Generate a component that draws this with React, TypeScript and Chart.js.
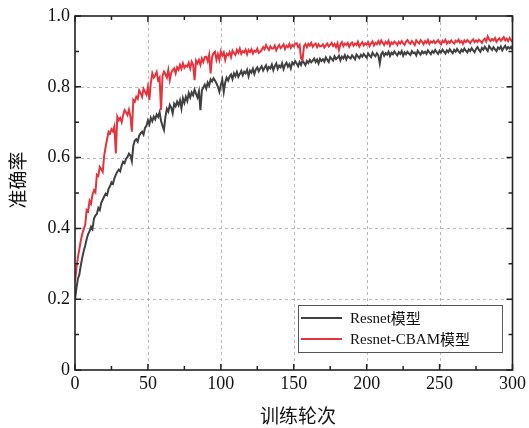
import React, { useEffect, useRef } from "react";
import { Chart, registerables } from "chart.js";

Chart.register(...registerables);

const epochs: number[] = Array.from({ length: 301 }, (_, i) => i);

const resnet: number[] = [
  0.198, 0.232, 0.258, 0.270, 0.296, 0.318, 0.336, 0.352, 0.370, 0.384,
  0.392, 0.405, 0.398, 0.428, 0.436, 0.441, 0.458, 0.452, 0.472, 0.481,
  0.490, 0.498, 0.494, 0.512, 0.519, 0.530, 0.526, 0.541, 0.552, 0.560,
  0.566, 0.561, 0.578, 0.588, 0.584, 0.596, 0.602, 0.611, 0.606, 0.590,
  0.634, 0.648, 0.652, 0.645, 0.662, 0.669, 0.673, 0.665, 0.684, 0.690,
  0.705, 0.694, 0.712, 0.703, 0.716, 0.708, 0.722, 0.715, 0.728, 0.704,
  0.690, 0.678, 0.715, 0.738, 0.730, 0.749, 0.741, 0.725, 0.752, 0.745,
  0.758, 0.748, 0.762, 0.739, 0.768, 0.755, 0.772, 0.760, 0.782, 0.770,
  0.784, 0.776, 0.792, 0.780, 0.770, 0.787, 0.734, 0.790, 0.798, 0.806,
  0.795, 0.812, 0.803, 0.821, 0.815, 0.824, 0.818, 0.810, 0.800, 0.786,
  0.805, 0.820, 0.786, 0.812, 0.826, 0.818, 0.829, 0.835, 0.822, 0.838,
  0.830, 0.842, 0.828, 0.836, 0.845, 0.833, 0.843, 0.838, 0.848, 0.830,
  0.846, 0.840, 0.851, 0.836, 0.849, 0.855, 0.844, 0.852, 0.858, 0.846,
  0.854, 0.861, 0.847, 0.856, 0.852, 0.863, 0.847, 0.858, 0.866, 0.851,
  0.860, 0.855, 0.866, 0.850, 0.862, 0.868, 0.857, 0.864, 0.852, 0.869,
  0.864, 0.872, 0.866, 0.858, 0.870, 0.862, 0.874, 0.868, 0.861, 0.873,
  0.867, 0.876, 0.869, 0.874, 0.880, 0.870, 0.877, 0.866, 0.879, 0.873,
  0.878, 0.871, 0.883, 0.876, 0.870, 0.884, 0.879, 0.874, 0.886, 0.878,
  0.882, 0.888, 0.875, 0.885, 0.880, 0.889, 0.877, 0.887, 0.883, 0.880,
  0.889, 0.884, 0.878, 0.891, 0.886, 0.881, 0.890, 0.885, 0.893, 0.887,
  0.882, 0.894, 0.888, 0.884, 0.896, 0.890, 0.886, 0.895, 0.889, 0.866,
  0.892, 0.898, 0.888, 0.895, 0.891, 0.899, 0.887, 0.896, 0.892, 0.900,
  0.894, 0.889, 0.898, 0.893, 0.901, 0.888, 0.897, 0.892, 0.899, 0.894,
  0.890, 0.901, 0.895, 0.897, 0.889, 0.902, 0.896, 0.891, 0.900, 0.895,
  0.899, 0.893, 0.903, 0.897, 0.892, 0.901, 0.896, 0.904, 0.898, 0.893,
  0.902, 0.897, 0.905, 0.899, 0.894, 0.903, 0.898, 0.906, 0.900, 0.895,
  0.904, 0.899, 0.907, 0.901, 0.896, 0.905, 0.900, 0.908, 0.902, 0.897,
  0.906, 0.901, 0.909, 0.903, 0.898, 0.907, 0.912, 0.904, 0.899, 0.910,
  0.905, 0.913, 0.907, 0.901, 0.915, 0.909, 0.904, 0.912, 0.906, 0.901,
  0.911, 0.907, 0.914, 0.903, 0.910, 0.916, 0.906, 0.912, 0.908, 0.913,
  0.905,
];

const resnetCbam: number[] = [
  0.250, 0.288, 0.318, 0.342, 0.366, 0.385, 0.398, 0.410, 0.452, 0.448,
  0.478, 0.470, 0.496, 0.508, 0.502, 0.552, 0.548, 0.574, 0.568, 0.560,
  0.605, 0.630, 0.652, 0.673, 0.668, 0.680, 0.674, 0.688, 0.612, 0.716,
  0.706, 0.712, 0.700, 0.720, 0.734, 0.728, 0.720, 0.735, 0.716, 0.673,
  0.763, 0.758, 0.772, 0.766, 0.790, 0.782, 0.772, 0.794, 0.786, 0.778,
  0.800, 0.763, 0.812, 0.838, 0.826, 0.832, 0.842, 0.819, 0.826, 0.734,
  0.830, 0.843, 0.836, 0.826, 0.848, 0.819, 0.840, 0.847, 0.852, 0.838,
  0.855, 0.848, 0.862, 0.851, 0.866, 0.854, 0.860, 0.857, 0.868, 0.852,
  0.871, 0.862, 0.819, 0.874, 0.866, 0.876, 0.862, 0.880, 0.870, 0.884,
  0.885, 0.872, 0.890, 0.838, 0.884, 0.895, 0.899, 0.876, 0.892, 0.876,
  0.900, 0.888, 0.897, 0.876, 0.893, 0.889, 0.898, 0.884, 0.902, 0.895,
  0.890, 0.904, 0.896, 0.908, 0.893, 0.901, 0.897, 0.905, 0.892, 0.904,
  0.898, 0.906, 0.894, 0.902, 0.899, 0.908, 0.896, 0.899, 0.904, 0.912,
  0.906, 0.918, 0.910, 0.904, 0.914, 0.908, 0.908, 0.916, 0.903, 0.912,
  0.918, 0.909, 0.914, 0.920, 0.907, 0.916, 0.912, 0.921, 0.910, 0.918,
  0.914, 0.922, 0.923, 0.912, 0.918, 0.880, 0.876, 0.915, 0.921, 0.912,
  0.921, 0.916, 0.924, 0.913, 0.919, 0.922, 0.912, 0.920, 0.914, 0.915,
  0.920, 0.911, 0.917, 0.922, 0.914, 0.919, 0.924, 0.915, 0.921, 0.912,
  0.923, 0.904, 0.920, 0.926, 0.915, 0.922, 0.918, 0.924, 0.913, 0.921,
  0.925, 0.916, 0.922, 0.918, 0.927, 0.914, 0.921, 0.926, 0.917, 0.923,
  0.919, 0.926, 0.915, 0.922, 0.928, 0.917, 0.924, 0.920, 0.929, 0.921,
  0.931, 0.924, 0.918, 0.927, 0.922, 0.930, 0.916, 0.925, 0.921, 0.928,
  0.924, 0.918, 0.927, 0.922, 0.929, 0.923, 0.919, 0.928, 0.932, 0.925,
  0.921, 0.929, 0.924, 0.918, 0.931, 0.926, 0.922, 0.932, 0.927, 0.920,
  0.929, 0.924, 0.932, 0.921, 0.928, 0.925, 0.930, 0.923, 0.927, 0.932,
  0.925, 0.920, 0.930, 0.926, 0.933, 0.922, 0.928, 0.924, 0.931, 0.926,
  0.922, 0.930, 0.927, 0.933, 0.925, 0.929, 0.921, 0.931, 0.926, 0.932,
  0.928, 0.923, 0.930, 0.934, 0.926, 0.931, 0.927, 0.933, 0.929, 0.924,
  0.932, 0.936, 0.928, 0.942, 0.934, 0.929, 0.935, 0.931, 0.938, 0.927,
  0.933, 0.937, 0.930, 0.935, 0.940, 0.931, 0.936, 0.929, 0.938, 0.932,
  0.926,
];

const seriesNames: string[] = ["Resnet模型", "Resnet-CBAM模型"];
const xTitle = "训练轮次";
const yTitle = "准确率";
const xMajor: number[] = [0, 50, 100, 150, 200, 250, 300];
const yMajor: number[] = [0, 0.2, 0.4, 0.6, 0.8, 1.0];

const COLORS = ["#404040", "#e5343d"];
const SERIF = "'Liberation Serif', 'DejaVu Serif', serif";
const CJK = "'Noto Sans CJK SC', sans-serif";

const decorPlugin = {
  id: "decor",
  beforeDatasetsDraw(chart: any) {
    const { ctx, chartArea: a, scales } = chart;
    const xs = scales.x, ys = scales.y;
    ctx.save();
    ctx.strokeStyle = "#b8b8b8";
    ctx.lineWidth = 1;
    ctx.setLineDash([3, 3]);
    for (const v of xMajor) {
      if (v === 0 || v === 300) continue;
      const px = Math.round(xs.getPixelForValue(v)) + 0.5;
      ctx.beginPath(); ctx.moveTo(px, a.top); ctx.lineTo(px, a.bottom); ctx.stroke();
    }
    for (const v of yMajor) {
      if (v === 0 || v === 1) continue;
      const py = Math.round(ys.getPixelForValue(v)) + 0.5;
      ctx.beginPath(); ctx.moveTo(a.left, py); ctx.lineTo(a.right, py); ctx.stroke();
    }
    ctx.restore();
  },
  afterDatasetsDraw(chart: any) {
    const { ctx, chartArea: a, scales } = chart;
    const xs = scales.x, ys = scales.y;
    ctx.save();
    ctx.setLineDash([]);
    ctx.strokeStyle = "#222";
    ctx.lineWidth = 1.5;
    for (let v = 0; v <= 300; v += 25) {
      const px = xs.getPixelForValue(v);
      const len = v % 50 === 0 ? 6 : 4;
      ctx.beginPath();
      ctx.moveTo(px, a.bottom); ctx.lineTo(px, a.bottom - len);
      ctx.moveTo(px, a.top); ctx.lineTo(px, a.top + len);
      ctx.stroke();
    }
    for (let i = 0; i <= 10; i++) {
      const py = ys.getPixelForValue(i / 10);
      const len = i % 2 === 0 ? 6 : 4;
      ctx.beginPath();
      ctx.moveTo(a.left, py); ctx.lineTo(a.left + len, py);
      ctx.moveTo(a.right, py); ctx.lineTo(a.right - len, py);
      ctx.stroke();
    }
    ctx.lineWidth = 1.6;
    ctx.strokeRect(a.left, a.top, a.right - a.left, a.bottom - a.top);

    const lx = 298, ly = 305, lw = 204, lh = 47;
    ctx.fillStyle = "#fff";
    ctx.fillRect(lx, ly, lw, lh);
    ctx.strokeStyle = "#555";
    ctx.lineWidth = 1;
    ctx.strokeRect(lx + 0.5, ly + 0.5, lw, lh);
    const rows = [318, 339];
    chart.data.datasets.forEach((ds: any, i: number) => {
      ctx.strokeStyle = COLORS[i];
      ctx.lineWidth = 2;
      ctx.beginPath(); ctx.moveTo(301, rows[i]); ctx.lineTo(342, rows[i]); ctx.stroke();
      ctx.fillStyle = "#111";
      ctx.textBaseline = "middle";
      ctx.textAlign = "left";
      const label: string = ds.label;
      const m = label.match(/^([\x00-\x7f]+)(.*)$/);
      const latin = m ? m[1] : label;
      const rest = m ? m[2] : "";
      ctx.font = `15px ${SERIF}`;
      ctx.fillText(latin, 350, rows[i] + 1);
      const w = ctx.measureText(latin).width;
      ctx.font = `15px ${CJK}`;
      ctx.fillText(rest, 350 + w, rows[i]);
    });

    ctx.fillStyle = "#111";
    ctx.font = `19px ${CJK}`;
    ctx.textAlign = "center";
    ctx.textBaseline = "middle";
    ctx.fillText(xTitle, 298, 416);
    ctx.save();
    ctx.translate(18, 180);
    ctx.rotate(-Math.PI / 2);
    ctx.fillText(yTitle, 0, 0);
    ctx.restore();
    ctx.restore();
  },
};

export default function App() {
  const ref = useRef<HTMLCanvasElement | null>(null);
  useEffect(() => {
    if (!ref.current) return;
    const chart = new Chart(ref.current, {
      type: "line",
      data: {
        datasets: [
          {
            label: seriesNames[0],
            data: epochs.map((e, i) => ({ x: e, y: resnet[i] })),
            borderColor: COLORS[0],
            borderWidth: 2,
            pointRadius: 0,
            tension: 0,
            order: 2,
          },
          {
            label: seriesNames[1],
            data: epochs.map((e, i) => ({ x: e, y: resnetCbam[i] })),
            borderColor: COLORS[1],
            borderWidth: 2,
            pointRadius: 0,
            tension: 0,
            order: 1,
          },
        ],
      },
      options: {
        animation: false,
        responsive: false,
        maintainAspectRatio: false,
        layout: { padding: { left: 0, right: 15, top: 16, bottom: 0 } },
        plugins: { legend: { display: false }, tooltip: { enabled: false } },
        scales: {
          x: {
            type: "linear",
            min: 0,
            max: 300,
            grid: { display: false, drawTicks: false },
            border: { display: false },
            ticks: {
              stepSize: 50,
              padding: 3,
              color: "#111",
              font: { family: SERIF, size: 18 },
              maxRotation: 0,
            },
            afterFit: (s: any) => { s.height = 58; },
          },
          y: {
            min: 0,
            max: 1,
            grid: { display: false, drawTicks: false },
            border: { display: false },
            ticks: {
              stepSize: 0.2,
              padding: 5,
              color: "#111",
              font: { family: SERIF, size: 18 },
              callback: (v: any) => (Math.abs(v) < 1e-9 ? "0" : Number(v).toFixed(1)),
            },
            afterFit: (s: any) => { s.width = 75; },
          },
        },
      },
      plugins: [decorPlugin],
    });
    return () => chart.destroy();
  }, []);
  return (
    <div style={{ position: "absolute", left: 0, top: 0, width: 529, height: 428, background: "#fff" }}>
      <canvas ref={ref} width={529} height={428} />
    </div>
  );
}
